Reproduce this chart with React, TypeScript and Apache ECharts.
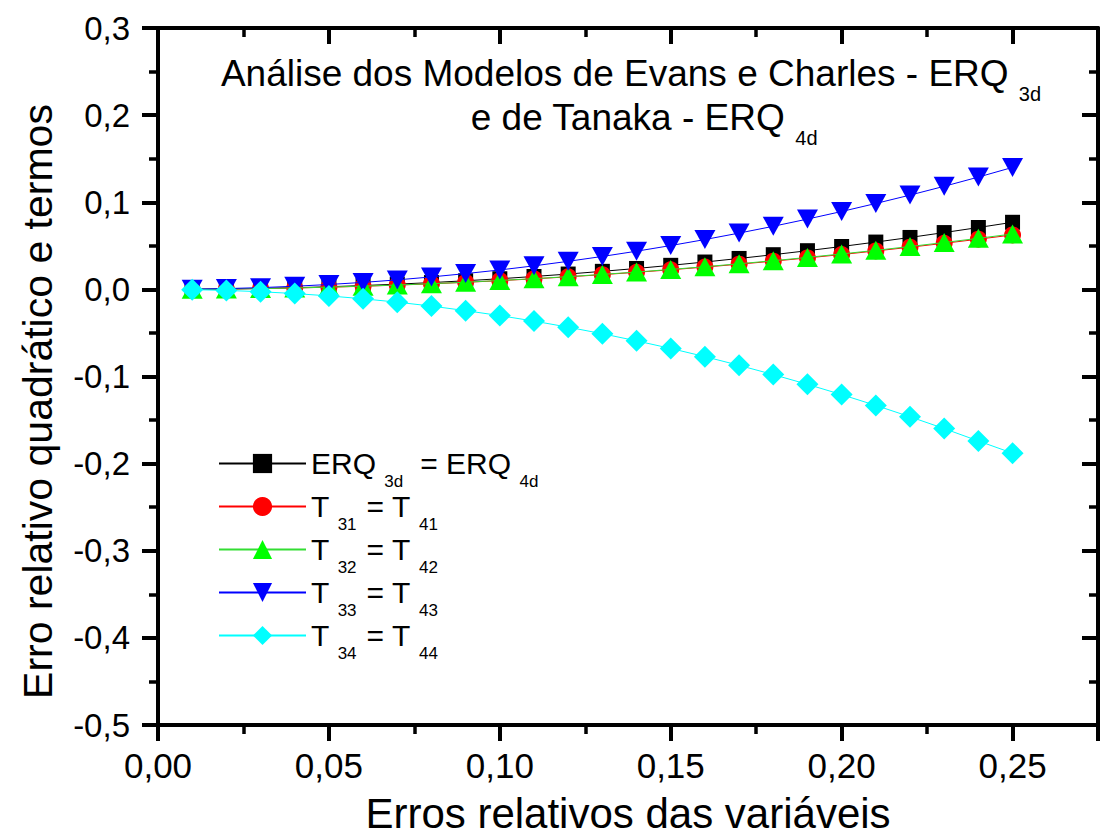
import React, { useEffect, useRef } from 'react';
import * as echarts from 'echarts';

const FONT = "'Liberation Sans', Arial, Helvetica, sans-serif";

const xValues = [0.01, 0.02, 0.03, 0.04, 0.05, 0.06, 0.07, 0.08, 0.09, 0.10, 0.11, 0.12, 0.13,
  0.14, 0.15, 0.16, 0.17, 0.18, 0.19, 0.20, 0.21, 0.22, 0.23, 0.24, 0.25];

const erq = [0.0001, 0.0005, 0.0011, 0.0019, 0.0030, 0.0044, 0.0060, 0.0078, 0.0099, 0.0122,
  0.0148, 0.0176, 0.0207, 0.0240, 0.0276, 0.0314, 0.0355, 0.0398, 0.0444, 0.0492, 0.0543,
  0.0596, 0.0652, 0.0710, 0.0770];
const t31 = [0.0001, 0.0004, 0.0009, 0.0016, 0.0025, 0.0036, 0.0049, 0.0064, 0.0081, 0.0100,
  0.0121, 0.0144, 0.0169, 0.0196, 0.0225, 0.0256, 0.0289, 0.0324, 0.0361, 0.0400, 0.0441,
  0.0484, 0.0529, 0.0576, 0.0625];
const t32 = [0.0001, 0.0004, 0.0009, 0.0016, 0.0026, 0.0037, 0.0050, 0.0065, 0.0082, 0.0102,
  0.0123, 0.0146, 0.0172, 0.0199, 0.0229, 0.0260, 0.0294, 0.0329, 0.0367, 0.0407, 0.0448,
  0.0492, 0.0538, 0.0586, 0.0636];
const t33 = [0.0002, 0.0009, 0.0020, 0.0036, 0.0056, 0.0080, 0.0109, 0.0143, 0.0181, 0.0223,
  0.0270, 0.0322, 0.0378, 0.0438, 0.0503, 0.0572, 0.0646, 0.0724, 0.0807, 0.0894, 0.0986,
  0.1082, 0.1183, 0.1289, 0.1400];
const t34 = [-0.0003, -0.0012, -0.0027, -0.0048, -0.0075, -0.0108, -0.0147, -0.0192, -0.0244,
  -0.0301, -0.0364, -0.0434, -0.0509, -0.0591, -0.0678, -0.0772, -0.0872, -0.0978, -0.1090,
  -0.1208, -0.1332, -0.1462, -0.1598, -0.1740, -0.1880];

const seriesNames = ['ERQ3d = ERQ4d', 'T31 = T41', 'T32 = T42', 'T33 = T43', 'T34 = T44'];
const legendRich: Record<string, string> = {
  'ERQ3d = ERQ4d': '{m|ERQ }{S|3d}{m|= ERQ }{s|4d}',
  'T31 = T41': '{m|T }{s|31}{m|= T }{s|41}',
  'T32 = T42': '{m|T }{s|32}{m|= T }{s|42}',
  'T33 = T43': '{m|T }{s|33}{m|= T }{s|43}',
  'T34 = T44': '{m|T }{s|34}{m|= T }{s|44}',
};
const titleText = '{m|Análise dos Modelos de Evans e Charles - ERQ }{s|3d}\n{w|}{m|e de Tanaka - ERQ }{s|4d}';
const xName = 'Erros relativos das variáveis';
const yName = 'Erro relativo quadrático e termos';

const seriesData = [erq, t31, t32, t33, t34];
const seriesColors = ['#000000', '#ff0000', '#00ff00', '#0000ff', '#00ffff'];
const lineColors = ['#000000', '#ff0000', '#33dd33', '#0000ff', '#00ffff'];
const seriesSymbols = ['rect', 'circle', 'triangle', 'path://M0,0L10,0L5,9Z', 'diamond'];
const seriesSymbolSizes: any[] = [15, 17, [21, 19], [21, 19], 22];

const fmtX = (v: number) => (v > 0.26 ? '' : v.toFixed(2).replace('.', ','));
const fmtY = (v: number) => v.toFixed(1).replace('.', ',');

function buildOption() {
  const axisLine = { show: true, onZero: false, lineStyle: { color: '#000', width: 4 } };
  const xCommon = { type: 'value', min: 0, max: 0.275, interval: 0.05, splitLine: { show: false } };
  const yCommon = { type: 'value', min: -0.5, max: 0.3, interval: 0.1, splitLine: { show: false } };
  return {
    animation: false,
    backgroundColor: '#ffffff',
    textStyle: { fontFamily: FONT },
    title: {
      text: titleText,
      left: 631,
      top: 51,
      padding: 0,
      textAlign: 'center',
      textStyle: {
        fontWeight: 'normal',
        rich: {
          m: { fontFamily: FONT, fontSize: 37, fontWeight: 'normal', lineHeight: 44, color: '#000' },
          s: { fontFamily: FONT, fontSize: 20, fontWeight: 'normal', lineHeight: 10, padding: [42, 0, 0, 0], color: '#000' },
          w: { width: 26, lineHeight: 10, fontSize: 20 },
        },
      },
    },
    legend: {
      orient: 'vertical',
      left: 218,
      top: 437,
      padding: 0,
      itemGap: -10,
      itemWidth: 87,
      itemHeight: 24,
      data: seriesNames,
      formatter: (name: string) => legendRich[name],
      textStyle: {
        color: '#000',
        fontFamily: FONT,
        fontSize: 30,
        rich: {
          m: { fontFamily: FONT, fontSize: 30, lineHeight: 44, color: '#000' },
          s: { fontFamily: FONT, fontSize: 17, lineHeight: 10, padding: [36, 10, 0, 0], color: '#000' },
          S: { fontFamily: FONT, fontSize: 17, lineHeight: 10, padding: [36, 17, 0, 0], color: '#000' },
        },
      },
    },
    grid: { left: 158, right: -3, top: 28, bottom: 108, containLabel: false },
    xAxis: [
      {
        ...xCommon,
        position: 'bottom',
        axisLine,
        axisTick: { show: true, inside: false, length: 16, lineStyle: { color: '#000', width: 4 } },
        minorTick: { show: true, splitNumber: 2, length: 9, lineStyle: { color: '#000', width: 3.5 } },
        axisLabel: { margin: 23, fontSize: 35, color: '#000', fontFamily: FONT, formatter: fmtX },
        name: xName,
        nameLocation: 'middle',
        nameGap: 67,
        nameTextStyle: { fontSize: 42, color: '#000', fontFamily: FONT },
      },
      {
        ...xCommon,
        position: 'top',
        axisLine,
        axisTick: { show: true, inside: true, length: 16, lineStyle: { color: '#000', width: 4 } },
        minorTick: { show: true, splitNumber: 2, length: 9, lineStyle: { color: '#000', width: 3.5 } },
        axisLabel: { show: false },
      },
    ],
    yAxis: [
      {
        ...yCommon,
        position: 'left',
        axisLine,
        axisTick: { show: true, inside: false, length: 16, lineStyle: { color: '#000', width: 4 } },
        minorTick: { show: true, splitNumber: 2, length: 9, lineStyle: { color: '#000', width: 3.5 } },
        axisLabel: { margin: 28, fontSize: 33, color: '#000', fontFamily: FONT, formatter: fmtY },
        name: yName,
        nameLocation: 'middle',
        nameGap: 100,
        nameTextStyle: { fontSize: 41, color: '#000', fontFamily: FONT, padding: [0, 50, 0, 0] },
      },
      {
        ...yCommon,
        position: 'right',
        axisLine,
        axisTick: { show: true, inside: true, length: 16, lineStyle: { color: '#000', width: 4 } },
        minorTick: { show: true, splitNumber: 2, length: 9, lineStyle: { color: '#000', width: 3.5 } },
        axisLabel: { show: false },
      },
    ],
    series: seriesNames.map((name, i) => ({
      name,
      type: 'line',
      xAxisIndex: 0,
      yAxisIndex: 0,
      data: xValues.map((x, j) => [x, seriesData[i][j]]),
      symbol: seriesSymbols[i],
      symbolSize: seriesSymbolSizes[i],
      showSymbol: true,
      itemStyle: { color: seriesColors[i] },
      lineStyle: { color: lineColors[i], width: 1 },
      emphasis: { disabled: true },
      z: 2 + i,
    })),
  };
}

export default function App() {
  const ref = useRef<HTMLDivElement>(null);
  useEffect(() => {
    document.body.style.margin = '0';
    const chart = echarts.init(ref.current as HTMLDivElement, null, { renderer: 'svg' });
    chart.setOption(buildOption() as any);
    return () => chart.dispose();
  }, []);
  return (
    <div
      ref={ref}
      style={{ position: 'absolute', left: 0, top: 0, width: 1101, height: 839, background: '#fff' }}
    />
  );
}
